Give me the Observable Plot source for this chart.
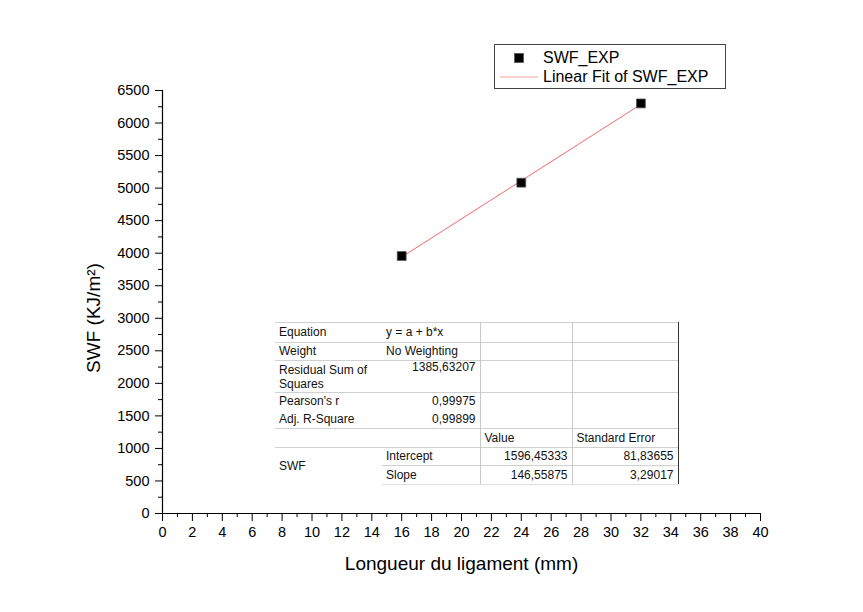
<!DOCTYPE html>
<html>
<head>
<meta charset="utf-8">
<script src="https://cdn.jsdelivr.net/npm/d3@7"></script>
<script src="https://cdn.jsdelivr.net/npm/@observablehq/plot@0.6"></script>
<style>
  html, body { margin: 0; padding: 0; background: #fff; }
  #wrap { position: relative; width: 863px; height: 612px; font-family: "Liberation Sans", Arial, sans-serif; }
  #legend { position: absolute; left: 494px; top: 44px; width: 232px; height: 45px; border: 1px solid #444; box-sizing: border-box; background: #fff; }
  #legend .row { position: absolute; left: 0; height: 20px; display: flex; align-items: center; font-size: 16px; color: #000; }
  #legend .sym { width: 48px; display: flex; justify-content: center; align-items: center; }
  #tbl { position: absolute; left: 275px; top: 322px; border-collapse: collapse; table-layout: fixed; font-size: 12px; color: #111; background: #fff; }
  #tbl td { padding: 0 4px; vertical-align: middle; border-top: 1px solid #d0d0d0; border-left: 1px solid #c8c8c8; line-height: 13px; white-space: nowrap; overflow: hidden; }
  #tbl tr:first-child td { border-top: 1px solid #333; }
  #tbl td:first-child { border-left: none; }
  #tbl td:last-child { border-right: 1px solid #333; }
  #tbl td.r { text-align: right; }
  #tbl td.nb { border-top: none; }
  #tbl td.nl { border-left: none; }
  #tbl td.wrap { white-space: normal; }
  #tbl tr:last-child td { border-bottom: 1px solid #e0e0e0; }
</style>
</head>
<body>
<div id="wrap"></div>
<script>
// ---- data ----
const lengths = [16, 24, 32];
const swfValues = [3956.6, 5083.5, 6301.5];
const seriesName = "SWF_EXP";
const fitName = "Linear Fit of SWF_EXP";
const xMajor = [0,2,4,6,8,10,12,14,16,18,20,22,24,26,28,30,32,34,36,38,40];
const xMinor = [1,3,5,7,9,11,13,15,17,19,21,23,25,27,29,31,33,35,37,39];
const yMajor = [0,500,1000,1500,2000,2500,3000,3500,4000,4500,5000,5500,6000,6500];
const yMinor = [250,750,1250,1750,2250,2750,3250,3750,4250,4750,5250,5750,6250];
const xLabel = "Longueur du ligament (mm)";
const yLabel = "SWF (KJ/m²)";
const tableRows = [
  ["Equation", "y = a + b*x", "", ""],
  ["Weight", "No Weighting", "", ""],
  ["Residual Sum of Squares", "1385,63207", "", ""],
  ["Pearson's r", "0,99975", "", ""],
  ["Adj. R-Square", "0,99899", "", ""],
  ["", "", "Value", "Standard Error"],
  ["SWF", "Intercept", "1596,45333", "81,83655"],
  ["SWF", "Slope", "146,55875", "3,29017"]
];

const data = lengths.map((x, i) => ({x, y: swfValues[i]}));

const plot = Plot.plot({
  width: 863,
  height: 612,
  marginLeft: 162,
  marginRight: 103,
  marginTop: 90,
  marginBottom: 99,
  style: {fontFamily: "'Liberation Sans', Arial, sans-serif", fontSize: "14px", color: "#000", background: "#fff", overflow: "visible"},
  x: {domain: [0, 40]},
  y: {domain: [0, 6500]},
  marks: [
    Plot.axisY(yMinor, {tickSize: 4, tickFormat: () => "", label: null}),
    Plot.axisY(yMajor, {tickSize: 7, tickPadding: 6, fontSize: 14.5, tickFormat: d => String(d), label: null}),
    Plot.axisX(xMinor, {tickSize: 4, tickFormat: () => "", label: null}),
    Plot.axisX(xMajor, {tickSize: 8, tickPadding: 5, fontSize: 14.5, tickFormat: d => String(d), label: null}),
    Plot.ruleX([0], {stroke: "#000", strokeWidth: 1.2}),
    Plot.ruleY([0], {stroke: "#000", strokeWidth: 1.2}),
    Plot.linearRegressionY(data, {x: "x", y: "y", ci: 0, stroke: "#f26a6a", strokeWidth: 1}),
    Plot.dot(data, {x: "x", y: "y", symbol: "square", r: 5, fill: "#000", stroke: "#555", strokeWidth: 0.8}),
    Plot.text([xLabel], {frameAnchor: "bottom", dy: 56, fontSize: 19, fill: "#000"}),
    Plot.text([yLabel], {frameAnchor: "left", textAnchor: "middle", dx: -69, dy: 16, rotate: -90, fontSize: 19, fill: "#000"})
  ]
});

const wrap = document.getElementById("wrap");
wrap.appendChild(plot);

// legend
const legend = document.createElement("div");
legend.id = "legend";
legend.innerHTML = `
  <div class="row" style="top:3px"><div class="sym"><svg width="12" height="12"><rect x="1.5" y="1.5" width="9" height="9" fill="#000" stroke="#555" stroke-width="0.8"/></svg></div><span>${seriesName}</span></div>
  <div class="row" style="top:22px"><div class="sym" style="width:48px"><svg width="40" height="4"><line x1="1" x2="39" y1="2" y2="2" stroke="#f5a0a0" stroke-width="1.2"/></svg></div><span>${fitName}</span></div>`;
wrap.appendChild(legend);

// stats table
const colW = [107, 98, 92, 106];
const rowH = [20, 18, 32, 18, 18, 19, 18, 19];
const tbl = document.createElement("table");
tbl.id = "tbl";
const cg = document.createElement("colgroup");
colW.forEach(w => { const c = document.createElement("col"); c.style.width = w + "px"; cg.appendChild(c); });
tbl.appendChild(cg);
tableRows.forEach((row, i) => {
  const tr = document.createElement("tr");
  tr.style.height = rowH[i] + "px";
  row.forEach((cell, j) => {
    if (i === 7 && j === 0) return;
    const td = document.createElement("td");
    td.textContent = cell;
    if (i === 6 && j === 0) td.rowSpan = 2;
    if (j >= 2 && i >= 6) td.className = "r";
    if (j === 1 && i >= 2 && i <= 4) td.className = "r";
    if (j === 1 && i !== 7) td.classList.add("nl");
    if (i === 4) td.classList.add("nb");
    if (i === 2 && j === 1) td.style.verticalAlign = "top";
    if (i === 2 && j === 0) { td.style.lineHeight = "14px"; td.classList.add("wrap"); }
    tr.appendChild(td);
  });
  tbl.appendChild(tr);
});
wrap.appendChild(tbl);
</script>
</body>
</html>
